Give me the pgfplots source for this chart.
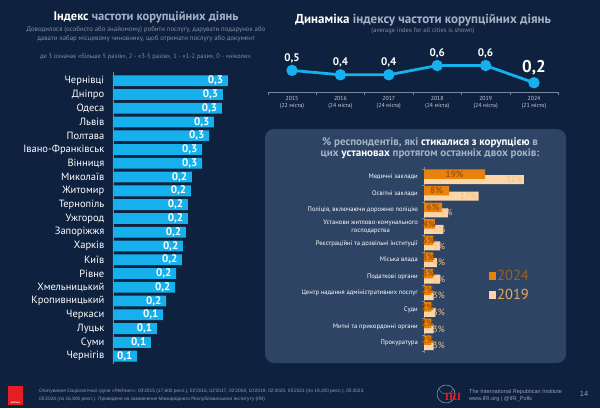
\documentclass[border=0pt]{standalone}
\usepackage{pgfplots}
\pgfplotsset{compat=1.18}
\usepackage{pgfplotstable}
\usepackage{fontspec}
\setmainfont{PT Sans}
\newfontfamily\serifrm{Liberation Serif}
\newfontfamily\footfont{Liberation Sans}

\definecolor{bg}{RGB}{14,33,62}
\definecolor{barblue}{RGB}{22,176,236}
\definecolor{ttlgrey}{RGB}{165,178,198}
\definecolor{subgrey}{RGB}{128,143,166}
\definecolor{panel}{RGB}{46,68,100}
\definecolor{orangeC}{RGB}{232,130,12}
\definecolor{peach}{RGB}{252,213,168}
\definecolor{olabel}{RGB}{165,85,5}
\definecolor{plabel}{RGB}{244,192,138}
\definecolor{leg24}{RGB}{152,98,35}
\definecolor{leg19}{RGB}{236,170,95}
\definecolor{axgrey}{RGB}{120,135,158}
\definecolor{foot}{RGB}{150,160,178}
\definecolor{ticklab}{RGB}{200,208,220}
\definecolor{logored}{RGB}{228,30,36}

\pgfplotsset{sqlegend/.style={legend image code/.code={\fill[##1] (0pt,-3.6pt) rectangle (7.2pt,3.6pt);}}}

\pgfplotstableread{
city v lab
Чернівці 0.348 0,3
Дніпро 0.333 0,3
Одеса 0.330 0,3
Львів 0.306 0,3
Полтава 0.291 0,3
Івано-Франківськ 0.270 0,3
Вінниця 0.270 0,3
Миколаїв 0.239 0,2
Житомир 0.236 0,2
Тернопіль 0.227 0,2
Ужгород 0.227 0,2
Запоріжжя 0.221 0,2
Харків 0.212 0,2
Київ 0.209 0,2
Рівне 0.191 0,2
Хмельницький 0.188 0,2
Кропивницький 0.161 0,2
Черкаси 0.152 0,1
Луцьк 0.133 0,1
Суми 0.115 0,1
Чернігів 0.073 0,1
}\citytab

\pgfplotstableread{
o p ol
19 31 19
7.8 17 8
5.6 7.5 6
3.4 6 4
2.8 5 3
2.8 4 3
2.8 5 3
2.3 3 2
2.3 3.5 2
2.3 3 2
2.3 3 2
}\insttab

\begin{document}
\begin{tikzpicture}
\fill[bg] (0pt,0pt) rectangle (600pt,-408pt);

% ---------------- left titles
\node[anchor=center] at (146pt,-17pt) {\bfseries\fontsize{12.5}{14}\selectfont \textcolor{white}{Індекс} \textcolor{ttlgrey}{частоти корупційних діянь}};
\node[anchor=center, text=subgrey, align=center, font=\fontsize{6.8}{9}\selectfont] at (146pt,-34.5pt) {Доводилося (особисто або знайомому) робити послугу, дарувати подарунок або\\давати хабар місцевому чиновнику, щоб отримати послугу або документ};
\node[anchor=center, text=subgrey, font=\fontsize{6.5}{8}\selectfont] at (146pt,-57pt) {де 3 означає «більше 5 разів», 2 - «3-5 разів», 1 - «1-2 рази», 0 - «ніколи».};

% ---------------- left bar chart
\begin{axis}[
  at={(113pt,-364.4pt)}, anchor=south west,
  scale only axis, width=118.8pt, height=292pt,
  xmin=0, xmax=0.36, ymin=-0.6, ymax=20.6, y dir=reverse,
  axis x line=none, xtick=\empty,
  axis y line*=left, y axis line style={draw=axgrey, line width=0.6pt},
  ytick={0,...,20}, yticklabels from table={\citytab}{city},
  major tick length=0pt,
  yticklabel style={font=\fontsize{10.5}{12}\selectfont, text=white, inner sep=0pt, xshift=-8.5pt},
  clip=false,
]
\addplot[xbar, bar width=10.8pt, fill=barblue, draw=none] table[x=v, y expr=\coordindex]{\citytab};
\addplot[draw=none, mark=none, nodes near coords, point meta=explicit symbolic,
  nodes near coords style={anchor=east, xshift=-4.5pt, inner sep=0pt, text=white, font=\bfseries\fontsize{11}{12}\selectfont}]
  table[x=v, y expr=\coordindex, meta=lab]{\citytab};
\end{axis}

% ---------------- right top titles
\node[anchor=center] at (423pt,-20pt) {\bfseries\fontsize{13}{14}\selectfont \textcolor{white}{Динаміка} \textcolor{ttlgrey}{індексу частоти корупційних діянь}};
\node[anchor=center, text=subgrey, font=\fontsize{6.5}{8}\selectfont] at (423pt,-31pt) {(average index for all cities is shown)};

% ---------------- line chart
\begin{axis}[
  at={(267.8pt,-92.4pt)}, anchor=south west,
  scale only axis, width=290.4pt, height=30.8pt,
  xmin=-0.5, xmax=5.5, ymin=0, ymax=0.7,
  axis y line=none, ytick=\empty,
  axis x line*=bottom, x axis line style={draw=axgrey, line width=0.6pt},
  xtick={0,...,5},
  xticklabels={{2015\\(22 міста)},{2016\\(24 міста)},{2017\\(24 міста)},{2018\\(24 міста)},{2019\\(24 міста)},{2024\\(21 місто)}},
  xticklabel style={align=center, font=\fontsize{5.8}{7.6}\selectfont, text=ticklab, inner sep=0pt, yshift=-3.5pt},
  major tick length=0pt,
  minor xtick={-0.5,0.5,...,5.5}, minor tick length=3pt, tick align=outside,
  minor tick style={draw=axgrey, line width=0.6pt},
  clip=false,
]
\addplot[barblue, line width=2.8pt, mark=*, mark size=4.2pt, mark options={fill=barblue, draw=none}]
  coordinates {(0,0.50) (1,0.40) (2,0.40) (3,0.61) (4,0.61) (5,0.22)};
\addplot[draw=none, mark=none, nodes near coords, point meta=explicit symbolic,
  nodes near coords style={anchor=base, yshift=9pt, inner sep=0pt, text=white, font=\bfseries\fontsize{11}{12}\selectfont}]
  coordinates {(0,0.50) [0,5] (1,0.40) [0,4] (2,0.40) [0,4] (3,0.61) [0,6] (4,0.61) [0,6]};
\addplot[draw=none, mark=none, nodes near coords, point meta=explicit symbolic,
  nodes near coords style={anchor=base, yshift=10.5pt, inner sep=0pt, text=white, font=\bfseries\fontsize{17}{18}\selectfont}]
  coordinates {(5,0.22) [0,2]};
\end{axis}

% ---------------- panel
\fill[panel, rounded corners=9pt] (265pt,-129pt) rectangle (566pt,-363pt);
\node[anchor=center, align=center, text=ttlgrey, font=\bfseries\fontsize{11}{10.5}\selectfont] at (430pt,-148pt)
  {\% респондентів, які \textcolor{white}{стикалися з корупцією} в\\цих \textcolor{white}{установах} протягом останніх двох років:};

\begin{axis}[
  at={(424pt,-353pt)}, anchor=south west,
  scale only axis, width=112.7pt, height=185.9pt,
  xmin=0, xmax=35, ymin=-0.6, ymax=10.6, y dir=reverse,
  axis x line=none, xtick=\empty,
  axis y line*=left, y axis line style={draw=axgrey, line width=0.6pt},
  ytick={0,...,10},
  yticklabels={Медичні заклади, Освітні заклади, {Поліція, включаючи дорожню поліцію}, {Установи житлово-комунального\\господарства}, Реєстраційні та дозвільні інституції, Міська влада, Податкові органи, Центр надання адміністративних послуг, Суди, Митні та прикордонні органи, Прокуратура},
  yticklabel style={align=center, font=\fontsize{6.6}{8}\selectfont, text=white, inner sep=0pt, xshift=-6pt},
  major tick length=0pt,
  minor ytick={-0.5,0.5,...,10.5}, minor tick length=2pt, tick align=outside,
  minor tick style={draw=axgrey, line width=0.5pt},
  clip=false,
  legend style={at={(0.575,0.452)}, anchor=north west, draw=none, fill=none, inner sep=0pt,
    font=\fontsize{14.5}{15}\selectfont, row sep=5pt, nodes={inner sep=1pt}},
  legend cell align=left,
]
\addlegendimage{fill=orangeC, draw=none, sqlegend}
\addlegendentry{\textcolor{leg24}{2024}}
\addlegendimage{fill=peach, draw=none, sqlegend}
\addlegendentry{\textcolor{leg19}{2019}}
\addplot[xbar, bar width=9pt, fill=peach, draw=none, forget plot] table[x=p, y expr=\coordindex+0.15]{\insttab};
\addplot[draw=none, mark=none, forget plot, nodes near coords={\pgfplotspointmeta\%}, point meta=explicit symbolic,
  nodes near coords style={anchor=east, inner sep=0pt, text=plabel, font=\fontsize{9}{10}\selectfont}]
  coordinates {(30.7,0.15) [31] (16.5,1.15) [17] (8.9,2.15) [8] (6.7,3.15) [6] (6.6,4.15) [5] (6.6,5.15) [4] (6.6,6.15) [5] (6.5,7.15) [3] (6.5,8.15) [3] (6.5,9.15) [3] (6.5,10.15) [3]};
\addplot[xbar, bar width=9.5pt, fill=orangeC, draw=none, forget plot] table[x=o, y expr=\coordindex-0.18]{\insttab};
\addplot[draw=none, mark=none, forget plot, nodes near coords={\pgfplotspointmeta\%}, point meta=explicit symbolic,
  nodes near coords style={anchor=center, inner sep=0pt, text=olabel, font=\bfseries\fontsize{9}{10}\selectfont}]
  table[x expr=\thisrow{o}/2, y expr=\coordindex-0.18, meta=ol]{\insttab};
\end{axis}

% ---------------- footer
\fill[logored] (8pt,-386pt) rectangle (23pt,-405pt);
\node[text=white, font=\fontsize{2.6}{3}\selectfont\bfseries, inner sep=0pt] at (15.5pt,-402.5pt) {рейтинг};
\node[anchor=north west, text=foot, align=left, inner sep=0pt, font=\footfont\fontsize{4.8}{8.5}\selectfont] at (39pt,-388.5pt)
  {Опитування Соціологічної групи «Рейтинг»: 03'2015 (17,600 респ.), 02'2016, 02'2017, 02'2018, 10'2019, 02'2020, 05'2021 (по 19,200 респ.), 05'2023,\\05'2024 (по 16,800 респ.). Проведене на замовлення Міжнародного Республіканського Інституту (IRI)};
\draw[foot, line width=0.5pt] (446pt,-394pt) circle (9pt);
\draw[foot, line width=0.3pt] (439pt,-389pt) arc (200:340:7.5pt);
\node[text=logored, font=\serifrm\bfseries\fontsize{11}{12}\selectfont, inner sep=0pt] at (453pt,-397pt) {IRI};
\node[anchor=west, text=foot, inner sep=0pt, font=\footfont\fontsize{5.6}{7}\selectfont] at (469pt,-392pt) {The International Republican Institute};
\node[anchor=west, text=foot, inner sep=0pt, font=\footfont\fontsize{5.6}{7}\selectfont] at (469pt,-399.5pt) {www.IRI.org | @IRI\_Polls};
\node[text=foot, inner sep=0pt, font=\footfont\fontsize{7.5}{8}\selectfont] at (584pt,-394pt) {14};

\pgfresetboundingbox
\path[use as bounding box] (0pt,0pt) rectangle (600pt,-408pt);
\end{tikzpicture}
\end{document}
